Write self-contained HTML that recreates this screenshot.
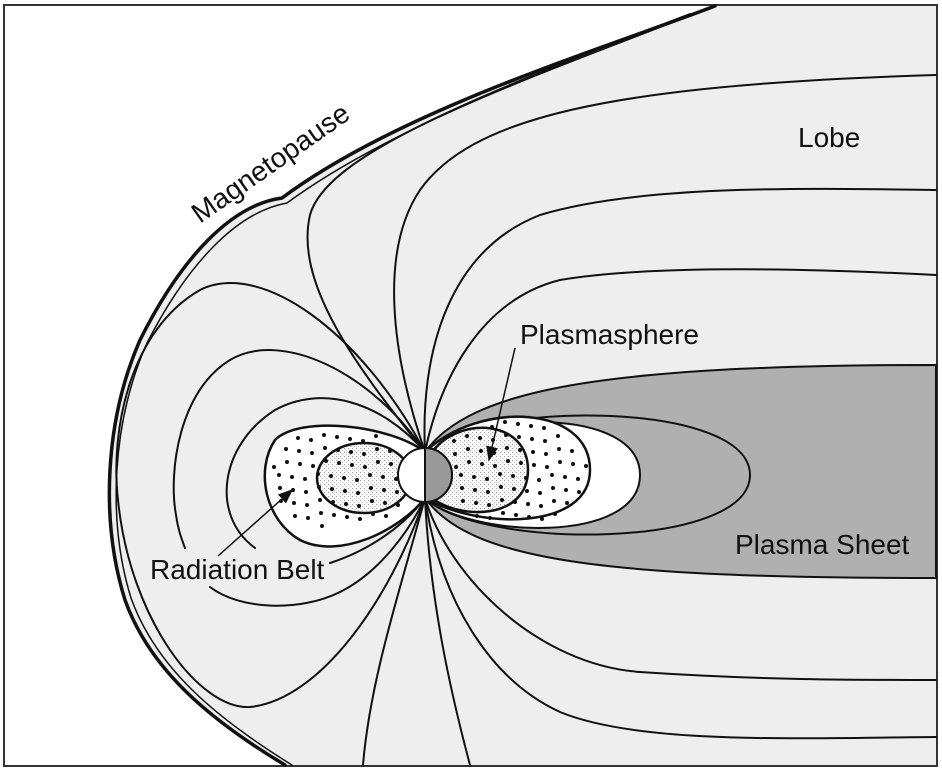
<!DOCTYPE html>
<html><head><meta charset="utf-8">
<style>html,body{margin:0;padding:0;background:#fff}svg{display:block}text{font-family:"Liberation Sans",sans-serif;font-size:28px;fill:#111}</style>
</head><body>
<svg width="942" height="771" viewBox="0 0 942 771">
<defs>
<pattern id="stip" width="4" height="4" patternUnits="userSpaceOnUse"><rect width="4" height="4" fill="#fafafa"/><rect x="0" y="0" width="1" height="1" fill="#999"/><rect x="2" y="2" width="1" height="1" fill="#bbb"/></pattern>
<marker id="ah" markerWidth="10" markerHeight="8" refX="9" refY="4" orient="auto"><path d="M0,0 L10,4 L0,8 Z" fill="#111"/></marker>
</defs>
<rect x="4" y="5" width="933" height="761" fill="#fff" stroke="#333" stroke-width="2"/>
<g fill="none" stroke="#111" stroke-linecap="round">
<path d="M715,6 C600,50 400,110 282,198 C230,205 180,260 140,340 C105,420 100,520 125,600 C150,670 210,720 285,765 L936,765 L936,6 Z" fill="#eeeeee" stroke="none"/>
<path d="M715,6 C600,50 400,110 282,198 C230,205 180,260 140,340 C105,420 100,520 125,600 C150,670 210,720 285,765" stroke-width="3.5"/>
<path d="M708,8 C598,54 405,116 287,203 C236,212 187,265 147,343 C112,422 107,520 131,598 C156,668 216,718 292,765" stroke-width="1.5"/>
<path d="M425,452 C470,390 600,365 936,365 L936,578 C600,578 470,560 425,498 Z" fill="#b0b0b0" stroke-width="2"/>
<path d="M425,452 C480,400 750,400 750,475 C750,550 480,550 425,498" fill="#b0b0b0" stroke-width="2"/>
<path d="M425,452 C470,412 640,405 640,475 C640,545 470,538 425,498" fill="#fff" stroke-width="2"/>
<path d="M425,452 C480,400 590,405 590,470 C590,530 480,530 425,498" fill="#fff" stroke-width="2.5"/>
<path d="M432,452 C460,415 528,420 528,470 C528,520 460,520 432,498" fill="url(#stip)" stroke-width="2.5"/>
<path d="M425,452 C360,330 260,260 200,290 C130,330 110,430 118,500 C130,620 200,710 250,707 C320,700 390,600 425,498" stroke-width="2"/>
<path d="M425,452 C370,370 280,330 230,360 C180,390 168,470 176,515 C178,530 182,540 185,548" stroke-width="2"/>
<path d="M210,587 C240,610 300,612 340,592 C380,572 410,530 425,498" stroke-width="2"/>
<path d="M425,452 C380,400 320,385 275,410 C220,445 210,515 255,548" stroke-width="2"/>
<path d="M425,452 C390,425 300,415 275,440 C255,470 265,520 300,540 C340,560 400,530 425,498" fill="#fff" stroke-width="2.5"/>
<path d="M330,563 C370,550 405,525 425,498" stroke-width="2"/>
<ellipse cx="364" cy="478" rx="47" ry="35" fill="url(#stip)" stroke-width="2.5"/>
<path d="M425,452 C350,360 295,280 310,215 C325,160 450,105 690,14" stroke-width="2"/>
<path d="M425,452 C390,350 380,250 420,190 C470,120 600,85 936,75" stroke-width="2"/>
<path d="M425,452 C420,350 450,250 540,215 C640,185 800,188 936,190" stroke-width="2"/>
<path d="M425,452 C440,380 480,300 560,280 C650,265 800,268 936,275" stroke-width="2"/>
<path d="M425,498 C450,580 540,665 640,672 C760,680 850,680 936,680" stroke-width="2"/>
<path d="M425,498 C440,600 490,680 560,712 C640,745 800,738 936,737" stroke-width="2"/>
<path d="M425,498 C430,600 450,690 470,765" stroke-width="2"/>
<path d="M425,498 C400,590 370,680 363,765" stroke-width="2"/>
</g>
<g id="dots" fill="#111"></g>
<circle cx="425" cy="475" r="27" fill="#fff" stroke="#111" stroke-width="2"/>
<path d="M425,448 A27,27 0 0 1 425,502 Z" fill="#999" stroke="#111" stroke-width="2"/>
<line x1="515" y1="348" x2="489" y2="460" stroke="#111" stroke-width="1.5" marker-end="url(#ah)"/>
<line x1="218" y1="556" x2="292" y2="490" stroke="#111" stroke-width="1.5" marker-end="url(#ah)"/>
<text x="798" y="147">Lobe</text>
<text x="520" y="344">Plasmasphere</text>
<text x="735" y="554">Plasma Sheet</text>
<text x="150" y="579">Radiation Belt</text>
<text x="200" y="224" transform="rotate(-35 200 224)">Magnetopause</text>
</svg>
<script>
var g=document.getElementById('dots');
function inEl(x,y,cx,cy,rx,ry){return ((x-cx)*(x-cx))/(rx*rx)+((y-cy)*(y-cy))/(ry*ry)<1;}
for(var y=425;y<540;y+=13){for(var x=270;x<590;x+=13){
var xx=x+((y*7)%9)-4, yy=y+((x*5)%7)-3;
var okL=inEl(xx,yy,340,478,72,50)&&xx<400;var okR=inEl(xx,yy,512,472,76,52)&&xx>452;
if(!(okL||okR))continue;
var c=document.createElementNS('http://www.w3.org/2000/svg','circle');


c.setAttribute('cx',xx);c.setAttribute('cy',yy);c.setAttribute('r','2');g.appendChild(c);}}
</script>
</body></html>
